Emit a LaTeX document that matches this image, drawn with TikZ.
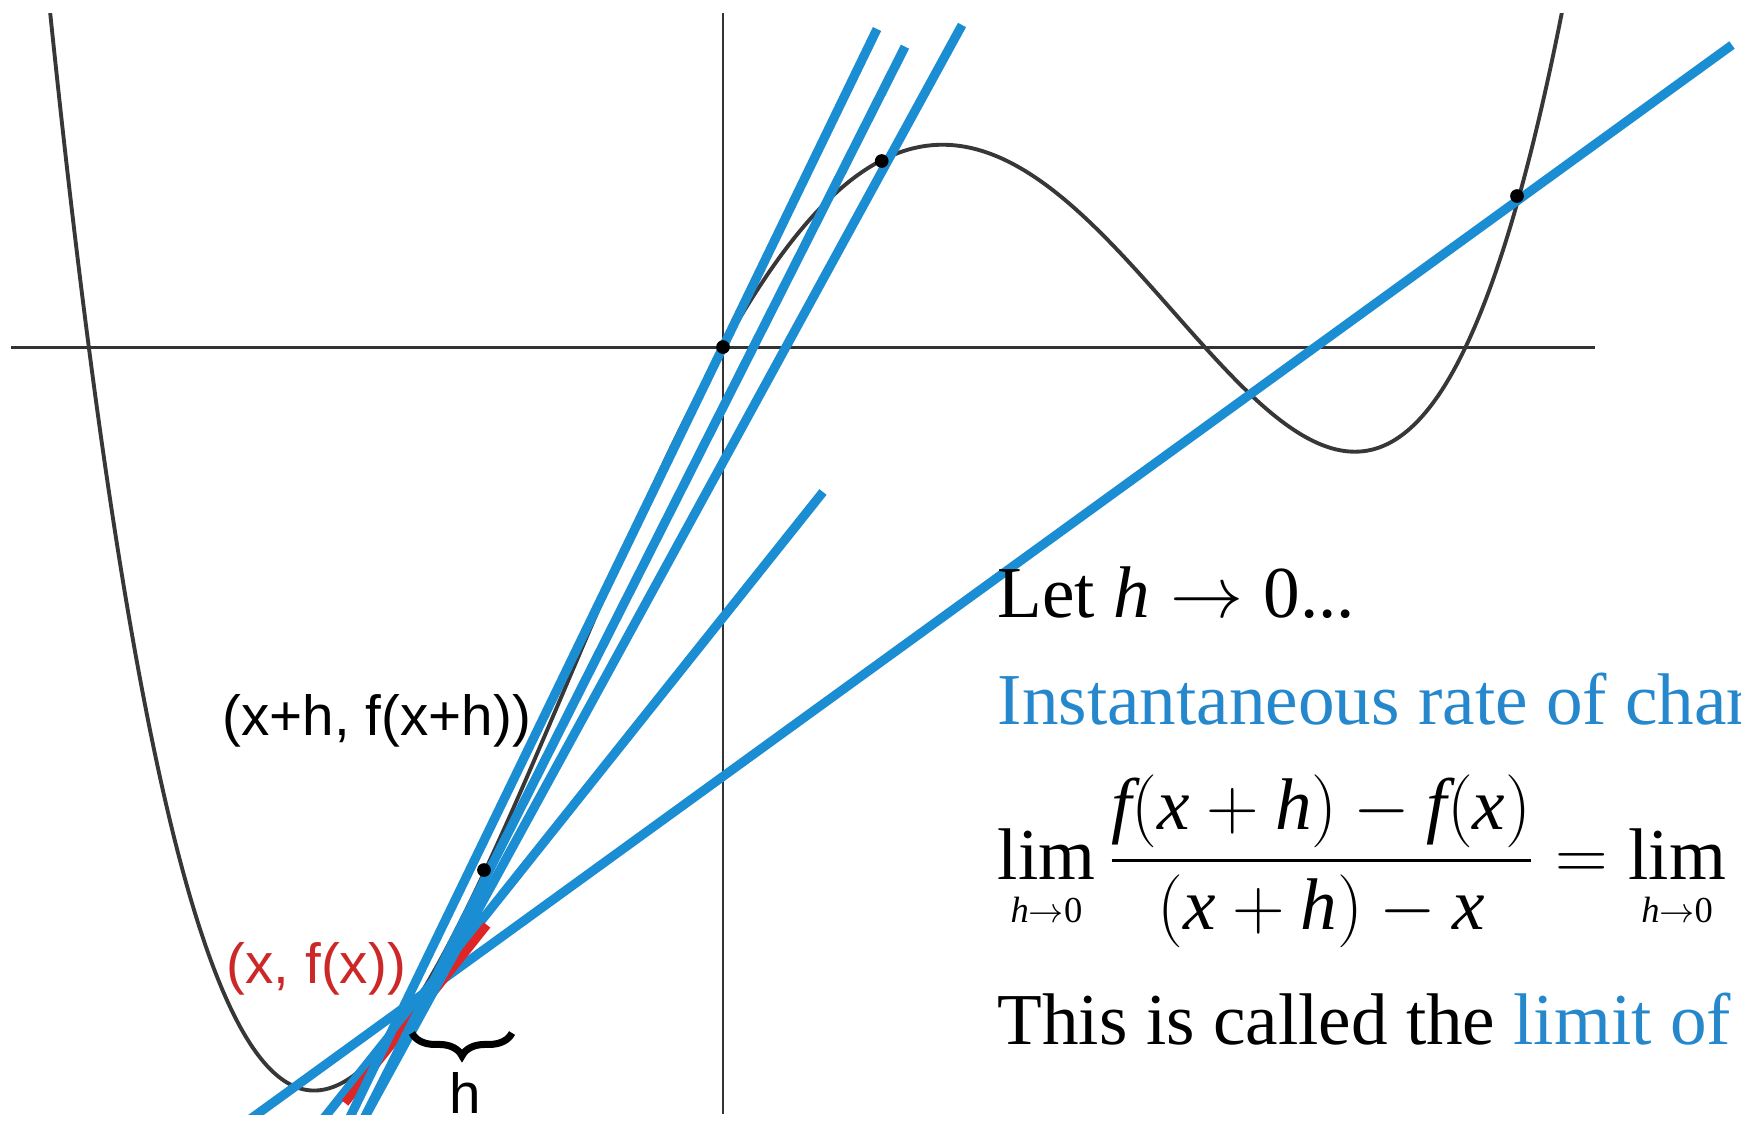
\documentclass[tikz,border=0pt]{standalone}
\usepackage{amsmath}
\usepackage{fontspec}
\setmainfont{Liberation Serif}
\newfontfamily\lsans{Liberation Sans}
\usetikzlibrary{decorations.pathreplacing}
\definecolor{lblue}{RGB}{27,141,211}
\definecolor{tblue}{RGB}{38,136,204}
\definecolor{lred}{RGB}{222,38,38}
\definecolor{tred}{RGB}{205,40,40}
\definecolor{curvegray}{RGB}{55,55,55}
\newcommand{\myop}{\mathopen{\mathrm{(}}}
\newcommand{\mycl}{\mathclose{\mathrm{)}}}
\newcommand{\myzero}{\mathrm{0}}
\begin{document}
\begin{tikzpicture}[x=0.01cm, y=-0.01cm,
  axis/.style={line width=0.85pt, black!80},
  fcurve/.style={line width=1.1pt, curvegray},
  secant/.style={line width=2.6pt, lblue},
  tangent/.style={line width=2.4pt, lred},
  dotpt/.style={circle, fill=black, inner sep=0pt, minimum size=3.9pt},
  lbl/.style={inner sep=0pt, font=\lsans\fontsize{16.1}{18}\selectfont},
  txt/.style={inner sep=0pt, anchor=base west, font=\fontsize{20.8}{24}\selectfont}]
\useasboundingbox[fill=white] (0,0) rectangle (1741,1123);

% axes
\coordinate (xL) at (11,347);
\coordinate (xR) at (1595,347);
\coordinate (yT) at (723,13);
\coordinate (yB) at (723,1114);
\draw[axis] (xL) -- (xR);
\draw[axis] (yT) -- (yB);

% points on the curve
\coordinate (O) at (723,347);
\coordinate (Q) at (881.7,161);
\coordinate (D) at (484,870);
\coordinate (R) at (1517,196);

% line end points
\coordinate (a1) at (877,29);     \coordinate (b1) at (343.8,1130);
\coordinate (a2) at (905,46.7);   \coordinate (b2) at (358.2,1130);
\coordinate (a3) at (962,25);     \coordinate (b3) at (357.8,1130);
\coordinate (a4) at (823,492);    \coordinate (b4) at (314.4,1130);
\coordinate (a5) at (1732,45);    \coordinate (b5) at (235.2,1130);
\coordinate (t1) at (345,1103);   \coordinate (t2) at (487,925);

\begin{scope}
  \clip (0,13) rectangle (1741,1114);
  \draw[fcurve] plot[domain=-6.85:8.6, samples=320, smooth]
    ({723+100*\x},{347-0.787*\x*(\x+6.342)*(\x-4.817)*(\x-7.426)});
  \draw[secant] (b5) -- (a5);
  \draw[secant] (b4) -- (a4);
  \draw[tangent] (t1) -- (t2);
  \draw[secant] (b1) -- (a1);
  \draw[secant] (b2) -- (a2);
  \draw[secant] (b3) -- (a3);
\end{scope}

\node[dotpt] (dO) at (O) {};
\node[dotpt] (dQ) at (Q) {};
\node[dotpt] (dD) at (D) {};
\node[dotpt] (dR) at (R) {};

% labels on the graph
\node[lbl, anchor=west] (lxh) at (222,721) {(x+h, f(x+h))};
\node[lbl, anchor=west, text=tred] (lx) at (226,969) {(x, f(x))};
\coordinate (bl) at (412,1033);
\coordinate (br) at (512,1033);
\draw[decorate, decoration={brace, amplitude=6.5pt, mirror}, line width=2pt] (bl) -- (br);
\node[lbl, anchor=base] (lh) at (465,1113) {h};

% text block
\node[txt] (let) at (997,617) {Let $\mathit{h}\to \myzero$...};
\node[txt, text=tblue] (inst) at (997,724) {Instantaneous rate of char};
\node[txt] (lim) at (997,879) {$\displaystyle\lim_{\scriptscriptstyle\mathit{h}\to\myzero}\frac{\mathit{f}\myop\mathit{x}+\mathit{h}\mycl-\mathit{f}\myop\mathit{x}\mycl}{\myop\mathit{x}+\mathit{h}\mycl-\mathit{x}}=\lim_{\scriptscriptstyle\mathit{h}\to\myzero}$};
\node[txt] (called) at (997,1044) {This is called the \textcolor{tblue}{limit of}};
\end{tikzpicture}
\end{document}
